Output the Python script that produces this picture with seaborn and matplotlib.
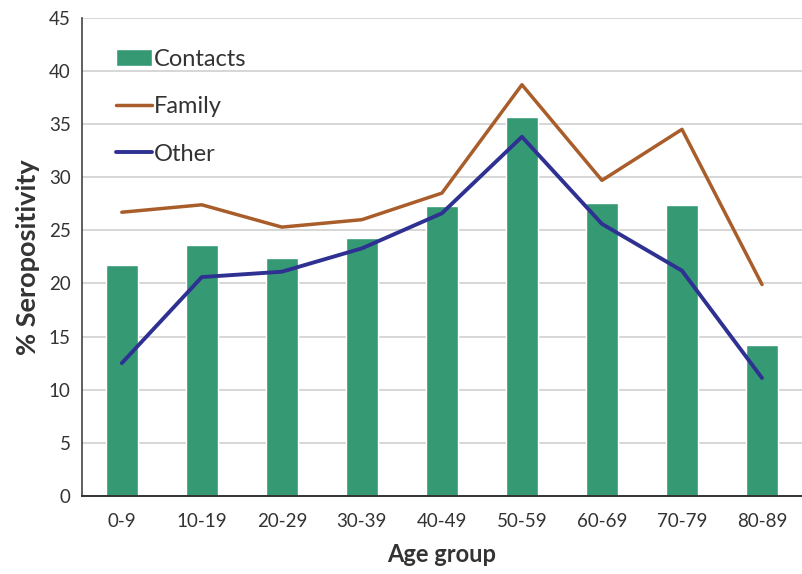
import pandas as pd
import matplotlib.pyplot as plt
import seaborn as sns
from matplotlib.patches import Patch
from matplotlib.lines import Line2D

sns.set_style("white")
plt.rcParams['font.family'] = ['Lato', 'DejaVu Sans']

# Data
age_groups = ['0-9', '10-19', '20-29', '30-39', '40-49', '50-59', '60-69', '70-79', '80-89']
contacts = [21.7, 23.6, 22.4, 24.3, 27.3, 35.7, 27.6, 27.4, 14.2]
family = [26.7, 27.4, 25.3, 26.0, 28.5, 38.7, 29.7, 34.5, 19.9]
other = [12.5, 20.6, 21.1, 23.3, 26.6, 33.8, 25.6, 21.2, 11.1]

df = pd.DataFrame({'age': age_groups, 'contacts': contacts,
                   'family': family, 'other': other})

bar_color = '#359A74'
family_color = '#A85D2A'
other_color = '#2E3192'

fig = plt.figure(figsize=(8.02, 5.74), dpi=100)
ax = fig.add_axes([0.102, 0.136, 0.898, 0.833])

sns.barplot(data=df, x='age', y='contacts', color=bar_color, width=0.4,
            saturation=1, ax=ax, zorder=2)
sns.pointplot(data=df, x='age', y='family', color=family_color, markers='',
              linewidth=2.5, errorbar=None, ax=ax)
sns.pointplot(data=df, x='age', y='other', color=other_color, markers='',
              linewidth=2.8, errorbar=None, ax=ax)

ax.set_xlim(-0.5, 8.5)
ax.set_ylim(0, 45)
ax.set_yticks(range(0, 46, 5))
ax.yaxis.grid(True, color='#CFCFCF', linewidth=1.2, zorder=0)
ax.set_axisbelow(True)

for s in ['top', 'right']:
    ax.spines[s].set_visible(False)
ax.spines['left'].set_color('#444444')
ax.spines['left'].set_linewidth(1.2)
ax.spines['bottom'].set_color('#333333')
ax.spines['bottom'].set_linewidth(1.4)

ax.tick_params(axis='both', length=0, labelsize=13.5, colors='#333333', pad=8)
ax.tick_params(axis='x', pad=12)
ax.set_xlabel('Age group', fontsize=17, fontweight='bold', color='#333333', labelpad=10)
ax.set_ylabel('% Seropositivity', fontsize=19.5, fontweight='bold', color='#333333', labelpad=6)

handles = [Patch(facecolor=bar_color, label='Contacts'),
           Line2D([], [], color=family_color, linewidth=2.5, label='Family'),
           Line2D([], [], color=other_color, linewidth=2.8, label='Other')]
ax.legend(handles=handles, loc='upper left', bbox_to_anchor=(0.035, 0.955),
          frameon=False, fontsize=17, labelspacing=1.12, handlelength=1.5,
          handletextpad=0.1, borderaxespad=0, labelcolor='#333333')

plt.savefig('out.png', dpi=100)
plt.close()
